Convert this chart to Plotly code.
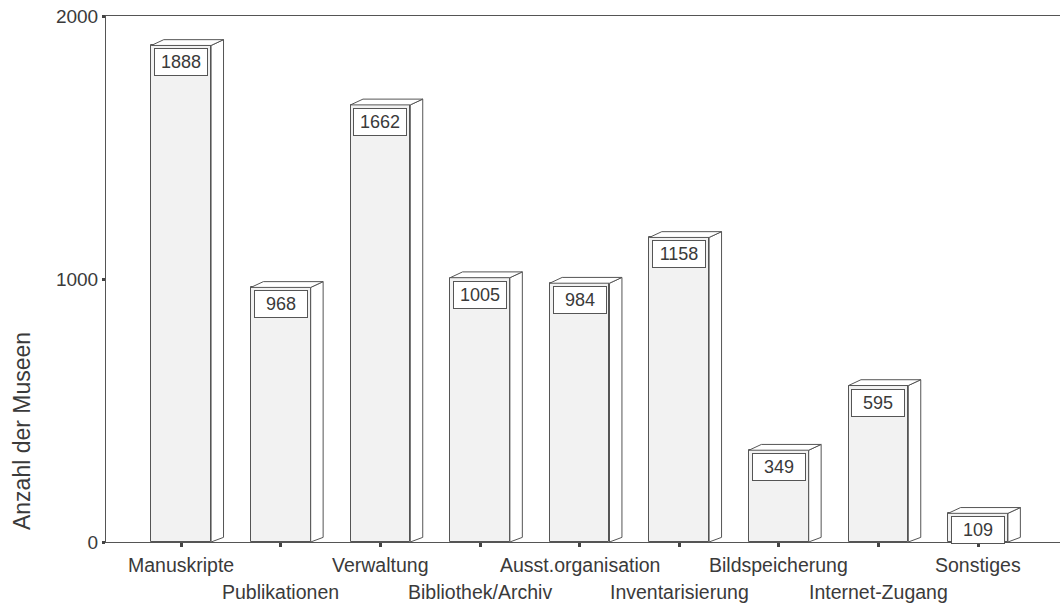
import plotly.graph_objects as go

categories = ["Manuskripte", "Publikationen", "Verwaltung", "Bibliothek/Archiv",
              "Ausst.organisation", "Inventarisierung", "Bildspeicherung",
              "Internet-Zugang", "Sonstiges"]
values = [1888, 968, 1662, 1005, 984, 1158, 349, 595, 109]
y_ticks = [0, 1000, 2000]

FONT = "Liberation Sans, Arial, Helvetica, sans-serif"
LINE = "#555555"
TEXT = "#3a3a3a"
BAR_W = 0.6
DX = 0.125  # depth offset in x units
DY = 22     # depth offset in y units

xs = list(range(len(categories)))
fig = go.Figure()

# side and top faces (pseudo 3D)
for x, v in zip(xs, values):
    xl, xr = x - BAR_W / 2, x + BAR_W / 2
    fig.add_trace(go.Scatter(
        x=[xr, xr + DX, xr + DX, xr, xr],
        y=[0, DY * 0.8, v + DY, v, 0],
        mode="lines", fill="toself", fillcolor="white",
        line=dict(color=LINE, width=1), hoverinfo="skip", showlegend=False))
    fig.add_trace(go.Scatter(
        x=[xl, xl + DX, xr + DX, xr, xl],
        y=[v, v + DY, v + DY, v, v],
        mode="lines", fill="toself", fillcolor="white",
        line=dict(color=LINE, width=1), hoverinfo="skip", showlegend=False))

# front faces
fig.add_trace(go.Bar(
    x=xs, y=values, width=BAR_W,
    marker=dict(color="#f2f2f2", line=dict(color=LINE, width=1)),
    hoverinfo="skip", showlegend=False))

# value labels in boxes
for x, v in zip(xs, values):
    fig.add_annotation(
        x=x, y=v, xref="x", yref="y", text=str(v), showarrow=False,
        yanchor="top", yshift=-3, width=50, height=24, borderpad=1,
        bgcolor="white", bordercolor=LINE, borderwidth=1,
        font=dict(family=FONT, size=18, color=TEXT))

# staggered category labels
for i, (x, c) in enumerate(zip(xs, categories)):
    fig.add_annotation(
        x=x, y=0, xref="x", yref="paper", text=c, showarrow=False,
        yanchor="top", yshift=-10 if i % 2 == 0 else -37,
        font=dict(family=FONT, size=19.5, color=TEXT))

# y axis title
fig.add_annotation(
    x=0, y=0.211, xref="paper", yref="paper", xshift=-84,
    xanchor="center", yanchor="middle",
    text="Anzahl der Museen", textangle=-90, showarrow=False,
    font=dict(family=FONT, size=23, color=TEXT))

fig.update_layout(
    width=1060, height=607,
    margin=dict(l=106, r=0, t=16, b=65),
    paper_bgcolor="white", plot_bgcolor="white",
    bargap=0,
    xaxis=dict(range=[-0.755, 8.823], tickvals=xs, ticktext=[""] * len(xs),
               showline=True, linecolor=LINE, linewidth=1, mirror=True,
               ticks="outside", ticklen=4, tickwidth=3, tickcolor="#444",
               showgrid=False, zeroline=False),
    yaxis=dict(range=[0, 2000], tickvals=y_ticks,
               showline=True, linecolor=LINE, linewidth=1,
               ticks="outside", ticklen=3, tickwidth=3, tickcolor="#444",
               tickfont=dict(family=FONT, size=19, color=TEXT),
               showgrid=False, zeroline=False),
)

# remove the default 8 px page margin so the figure fills the window exactly
fig.write_html("out.html",
               config={"displayModeBar": False},
               post_script="document.body.style.margin='0';"
                           "document.body.style.overflow='hidden';")
